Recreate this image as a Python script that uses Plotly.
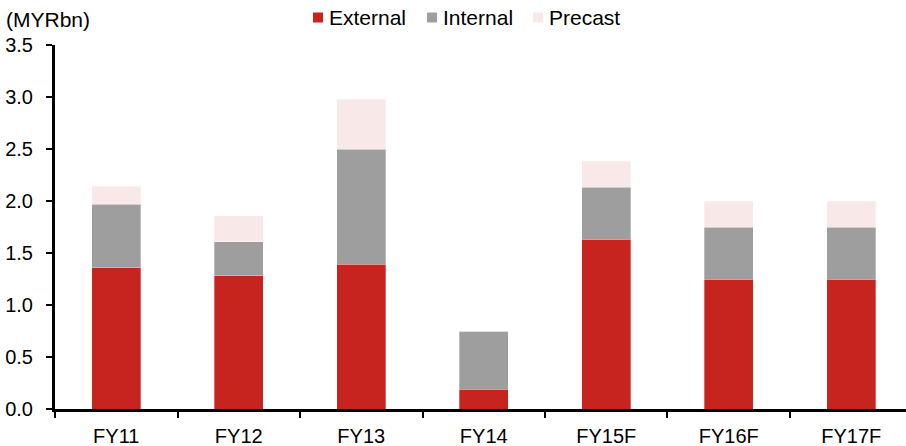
import plotly.graph_objects as go

# Order book breakdown by segment (MYR bn)
years = ["FY11", "FY12", "FY13", "FY14", "FY15F", "FY16F", "FY17F"]
external = [1.36, 1.28, 1.39, 0.19, 1.63, 1.25, 1.25]
internal = [0.61, 0.33, 1.11, 0.56, 0.50, 0.50, 0.50]
precast = [0.17, 0.25, 0.48, 0.00, 0.25, 0.25, 0.25]

series_names = ["External", "Internal", "Precast"]
series_colors = ["#C8241F", "#9E9E9E", "#F9E8E8"]

y_ticks = [0.0, 0.5, 1.0, 1.5, 2.0, 2.5, 3.0, 3.5]
y_tick_text = [f"{v:.1f}" for v in y_ticks]

FONT = "Liberation Sans, Arial, sans-serif"
W, H = 906, 446
ML, MR, MT, MB = 55, 0, 45, 37
PW, PH = W - ML - MR, H - MT - MB


def px_x(x):
    return (x - ML) / PW


def px_y(y):
    return (H - MB - y) / PH


fig = go.Figure()
for name, vals, color in zip(series_names, [external, internal, precast], series_colors):
    fig.add_trace(go.Bar(
        x=years, y=vals, name=name, showlegend=False,
        marker=dict(color=color, line=dict(color="rgba(255,255,255,0.6)", width=0.5)),
        width=0.4,
    ))

# Compact legend row: small square swatch followed closely by its label
legend_x = [313, 427, 533]
shapes, annotations = [], []
for x0, name, color in zip(legend_x, series_names, series_colors):
    shapes.append(dict(
        type="rect", xref="paper", yref="paper",
        x0=px_x(x0), x1=px_x(x0 + 10), y0=px_y(22.5), y1=px_y(12.5),
        fillcolor=color, line=dict(width=0),
    ))
    annotations.append(dict(
        text=name, xref="paper", yref="paper", x=px_x(x0 + 14), y=px_y(17.5),
        xanchor="left", yanchor="middle", showarrow=False,
        font=dict(size=21), xshift=0,
    ))

annotations.append(dict(
    text="(MYRbn)", xref="paper", yref="paper", x=px_x(4), y=px_y(19),
    xanchor="left", yanchor="middle", showarrow=False,
    font=dict(size=21),
))

fig.update_layout(
    barmode="stack",
    width=W, height=H,
    margin=dict(l=ML, r=MR, t=MT, b=MB),
    paper_bgcolor="white", plot_bgcolor="white",
    font=dict(family=FONT, size=20, color="#000000"),
    showlegend=False,
    xaxis=dict(
        range=[-0.5, 6.447], showline=True, linecolor="black", linewidth=3,
        ticks="outside", ticklen=6, tickwidth=2, tickcolor="black",
        tickson="boundaries", showgrid=False, zeroline=False,
        ticklabelstandoff=7,
    ),
    yaxis=dict(
        range=[0, 3.5], tickvals=y_ticks, ticktext=y_tick_text,
        showline=True, linecolor="black", linewidth=3,
        ticks="outside", ticklen=6, tickwidth=2, tickcolor="black",
        showgrid=False, zeroline=False, ticklabelstandoff=9,
    ),
    shapes=shapes,
    annotations=annotations,
)

fig.write_html("out.html")
